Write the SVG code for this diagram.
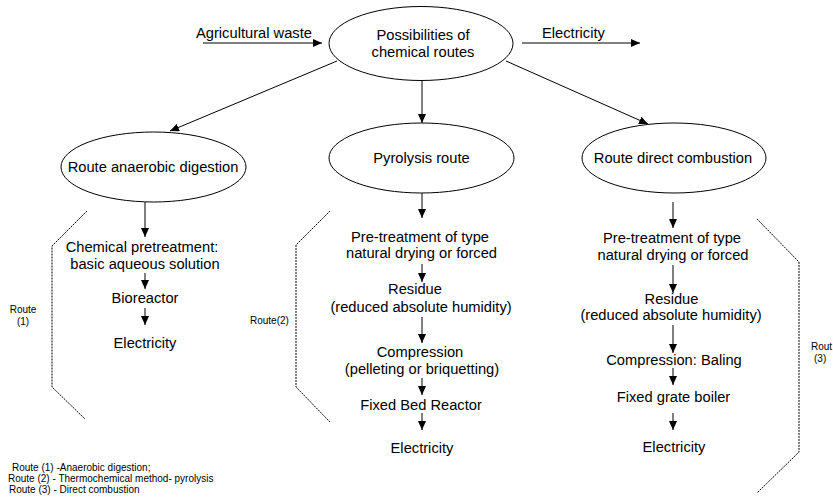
<svg xmlns="http://www.w3.org/2000/svg" width="833" height="499" viewBox="0 0 833 499">
<style>
text{font-family:"Liberation Sans",Arial,sans-serif;fill:#000}
.t{font-size:14.7px;text-anchor:middle}
.s{font-size:10px}
.sc{font-size:10px;text-anchor:middle}
.e{fill:#fff;stroke:#000;stroke-width:1}
.c{stroke:#000;stroke-width:1;fill:none;marker-end:url(#ah)}
.d{stroke:#000;stroke-width:1;fill:none;stroke-dasharray:2,1}
</style>
<defs>
<marker id="ah" markerUnits="userSpaceOnUse" markerWidth="9" markerHeight="8" refX="9" refY="4" orient="auto">
<path d="M0,0 L9,4 L0,8 z" fill="#000"/>
</marker>
</defs>
<rect width="833" height="499" fill="#fff"/>
<g id="connectors">
<line class="c" x1="203" y1="43" x2="322" y2="43"/>
<line class="c" x1="522" y1="43" x2="640" y2="43"/>
<line class="c" x1="337" y1="61" x2="170" y2="131"/>
<line class="c" x1="422" y1="80" x2="422" y2="123"/>
<line class="c" x1="506" y1="61" x2="648" y2="124"/>
<line class="c" x1="145" y1="202" x2="145" y2="237"/>
<line class="c" x1="145" y1="273" x2="145" y2="289"/>
<line class="c" x1="145" y1="308" x2="145" y2="325"/>
<line class="c" x1="422" y1="193" x2="422" y2="218"/>
<line class="c" x1="422" y1="264" x2="422" y2="282"/>
<line class="c" x1="422" y1="317" x2="422" y2="343"/>
<line class="c" x1="422" y1="378" x2="422" y2="395"/>
<line class="c" x1="422" y1="413" x2="422" y2="430"/>
<line class="c" x1="673" y1="202" x2="673" y2="228"/>
<line class="c" x1="673" y1="265" x2="673" y2="293"/>
<line class="c" x1="673" y1="325" x2="673" y2="353"/>
<line class="c" x1="673" y1="368" x2="673" y2="385"/>
<line class="c" x1="673" y1="413" x2="673" y2="430"/>
</g>
<g id="brackets">
<polyline class="d" points="87,211 52,246 52,387 85,419"/>
<polyline class="d" points="330,211 296,245 296,387 330,422"/>
<polyline class="d" points="757,219 799,262 799,452 757,493"/>
</g>
<g id="input"><text x="196" y="38" style="font-size:14.7px">Agricultural waste</text></g>
<g id="output"><text x="542" y="38" style="font-size:14.7px">Electricity</text></g>
<g id="root">
<ellipse class="e" cx="421" cy="43.5" rx="92" ry="37"/>
<text class="t" x="423" y="39.5">Possibilities of</text>
<text class="t" x="423" y="57">chemical routes</text>
</g>
<g id="route1">
<ellipse class="e" cx="153.5" cy="167" rx="92.5" ry="35"/>
<text class="t" x="153" y="172">Route anaerobic digestion</text>
</g>
<g id="route2">
<ellipse class="e" cx="421.5" cy="158" rx="92.5" ry="35"/>
<text class="t" x="421.5" y="163">Pyrolysis route</text>
</g>
<g id="route3">
<ellipse class="e" cx="674" cy="158" rx="92" ry="35"/>
<text class="t" x="673" y="163">Route direct combustion</text>
</g>
<g id="col1">
<text class="t" x="142" y="252">Chemical pretreatment:</text>
<text class="t" x="145" y="269">basic aqueous solution</text>
<text class="t" x="145" y="303">Bioreactor</text>
<text class="t" x="145" y="348">Electricity</text>
</g>
<g id="col2">
<text class="t" x="420" y="242">Pre-treatment of type</text>
<text class="t" x="421.5" y="258">natural drying or forced</text>
<text class="t" x="415" y="294">Residue</text>
<text class="t" x="421" y="312">(reduced absolute humidity)</text>
<text class="t" x="420" y="357">Compression</text>
<text class="t" x="422" y="374">(pelleting or briquetting)</text>
<text class="t" x="421" y="410">Fixed Bed Reactor</text>
<text class="t" x="422" y="453">Electricity</text>
</g>
<g id="col3">
<text class="t" x="672" y="243">Pre-treatment of type</text>
<text class="t" x="673" y="260">natural drying or forced</text>
<text class="t" x="671.5" y="304">Residue</text>
<text class="t" x="671" y="320">(reduced absolute humidity)</text>
<text class="t" x="674" y="365">Compression: Baling</text>
<text class="t" x="673.5" y="402">Fixed grate boiler</text>
<text class="t" x="674" y="452">Electricity</text>
</g>
<g id="labels">
<text class="sc" x="23" y="313">Route</text>
<text class="sc" x="23" y="325">(1)</text>
<text class="s" x="250" y="324">Route(2)</text>
<text class="s" x="811" y="350">Rout</text>
<text class="s" x="814" y="362">(3)</text>
</g>
<g id="legend">
<text class="s" x="12" y="471">Route (1) -Anaerobic digestion;</text>
<text class="s" x="8" y="482">Route (2) - Thermochemical method- pyrolysis</text>
<text class="s" x="9" y="493">Route (3) - Direct combustion</text>
</g>
</svg>
